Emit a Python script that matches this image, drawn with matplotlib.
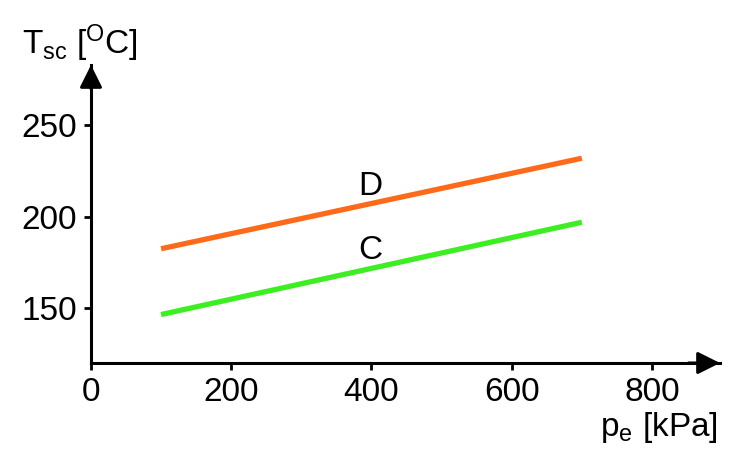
import matplotlib.pyplot as plt

plt.rcParams['font.family'] = ['Liberation Sans', 'DejaVu Sans']
plt.rcParams['mathtext.fontset'] = 'custom'
plt.rcParams['mathtext.rm'] = 'Liberation Sans'
plt.rcParams['mathtext.default'] = 'regular'

# pressure [kPa] and temperature [C] for the two lines
pressure = [100, 700]
temp_d = [182.5, 232]
temp_c = [146.5, 197]
x_ticks = [0, 200, 400, 600, 800]
y_ticks = [150, 200, 250]

fig = plt.figure(figsize=(7.39, 4.71), dpi=100)
ax = fig.add_axes([91 / 739, 108 / 471, 629 / 739, 298 / 471])

ax.plot(pressure, temp_d, color='#ff6a1a', lw=3.8, solid_capstyle='butt')
ax.plot(pressure, temp_c, color='#3cee22', lw=3.8, solid_capstyle='butt')

ax.text(399, 216.5, 'D', fontsize=24, ha='center', va='center')
ax.text(399, 181.5, 'C', fontsize=24, ha='center', va='center')

ax.set_xlim(0, 897)
ax.set_ylim(120, 283)
ax.set_xticks(x_ticks)
ax.set_yticks(y_ticks)
ax.tick_params(labelsize=24, length=5, width=2, pad=5)

for s in ['top', 'right']:
    ax.spines[s].set_visible(False)
for s in ['left', 'bottom']:
    ax.spines[s].set_linewidth(2.2)

# arrow heads at the ends of the axes
ax.annotate('', xy=(1.0, 0), xytext=(0.95, 0), xycoords='axes fraction',
            arrowprops=dict(arrowstyle='-|>', color='black', lw=2.2, mutation_scale=34,
                            shrinkA=0, shrinkB=0))
ax.annotate('', xy=(0, 1.0), xytext=(0, 0.92), xycoords='axes fraction',
            arrowprops=dict(arrowstyle='-|>', color='black', lw=2.2, mutation_scale=34,
                            shrinkA=0, shrinkB=0))

fig.text(22 / 739, 1 - 54 / 471, r'T$_{sc}$ [$^{O}$C]', fontsize=24, ha='left', va='baseline')
fig.text(718 / 739, 1 - 436 / 471, r'p$_{e}$ [kPa]', fontsize=24, ha='right', va='baseline')

fig.savefig('out.png', dpi=100)
